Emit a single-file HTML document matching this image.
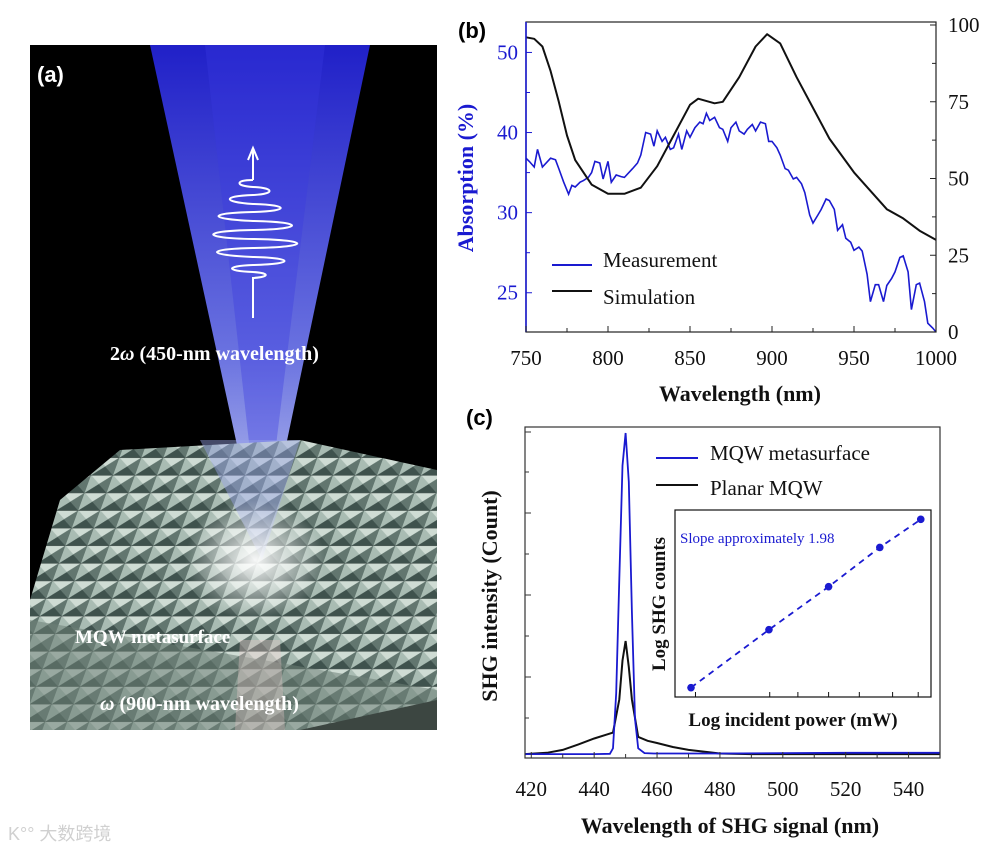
<!DOCTYPE html>
<html><head><meta charset="utf-8">
<style>
html,body{margin:0;padding:0;background:#fff;}
body{width:1008px;height:851px;overflow:hidden;position:relative;font-family:"Liberation Serif",serif;}
svg{position:absolute;left:0;top:0;}
</style></head>
<body>
<svg width="1008" height="851" viewBox="0 0 1008 851" xmlns="http://www.w3.org/2000/svg">
<defs>
  <linearGradient id="beam" x1="0" y1="0" x2="0" y2="1">
    <stop offset="0" stop-color="#2020c8"/>
    <stop offset="0.6" stop-color="#6a72e0"/>
    <stop offset="1" stop-color="#c8d0f0"/>
  </linearGradient>
  <pattern id="pyr" width="22" height="22" patternUnits="userSpaceOnUse" patternTransform="skewX(-20) scale(1,0.8)">
    <rect width="22" height="22" fill="#8fa39b"/>
    <polygon points="0,0 22,0 11,11" fill="#cfdcd4"/>
    <polygon points="0,22 22,22 11,11" fill="#3f524d"/>
    <polygon points="0,0 0,22 11,11" fill="#a9bcb3"/>
    <polygon points="22,0 22,22 11,11" fill="#62766f"/>
    <line x1="0" y1="0" x2="22" y2="0" stroke="#2a3532" stroke-width="1"/>
  </pattern>
  <radialGradient id="glow" cx="0.5" cy="0.5" r="0.5">
    <stop offset="0" stop-color="#ffffff" stop-opacity="0.95"/>
    <stop offset="1" stop-color="#ffffff" stop-opacity="0"/>
  </radialGradient>
</defs>

<!-- Panel (a) -->
<g>
  <rect x="30" y="45" width="407" height="685" fill="#000"/>
  <polygon points="150,45 370,45 262,560" fill="url(#beam)"/>
  <polygon points="205,45 325,45 262,560" fill="#3a3ae0" opacity="0.35"/>
  <polygon points="30,600 60,500 120,450 300,440 437,470 437,700 300,730 30,730" fill="url(#pyr)"/>
  <polygon points="30,620 437,690 437,730 30,730" fill="#6d7f77" opacity="0.55"/>
  <polygon points="200,440 300,440 262,560" fill="#9aa4e8" opacity="0.45"/>
  <ellipse cx="255" cy="560" rx="70" ry="60" fill="url(#glow)"/>
  <polygon points="240,640 280,640 285,730 235,730" fill="#e8c8c8" opacity="0.35"/>
  <g fill="none" stroke="#fff" stroke-width="2">
    <path d="M248,160 L253,148 L258,160 M253,150 L253,180"/>
    <path d="M253,180 C235,180 235,186 253,187 C275,188 275,194 253,195 C222,196 222,202 253,204 C290,205 290,211 253,212 C207,213 207,219 253,221 C305,222 305,229 253,230 C200,231 200,238 253,239 C312,240 312,247 253,248 C205,249 205,255 253,257 C295,258 295,264 253,265 C225,266 225,271 253,272 C270,273 270,277 253,278 L253,318"/>
  </g>
  <text x="37" y="82" font-family="Liberation Sans,sans-serif" font-weight="bold" font-size="22" fill="#fff">(a)</text>
  <text x="110" y="360" font-weight="bold" font-size="20" fill="#fff">2<tspan font-style="italic">ω</tspan> (450-nm wavelength)</text>
  <text x="75" y="643" font-weight="bold" font-size="19" fill="#fff">MQW metasurface</text>
  <text x="100" y="710" font-weight="bold" font-size="20" fill="#fff"><tspan font-style="italic">ω</tspan> (900-nm wavelength)</text>
</g>
<text x="8" y="840" font-family="Liberation Sans,'Noto Sans CJK SC',sans-serif" font-size="18" fill="#d0d0d0">K°° 大数跨境</text>

<g id="panelB"></g>
<g id="panelC"></g>
</svg>

<script>
const NS='http://www.w3.org/2000/svg';
function mk(parent,tag,attrs,text){const e=document.createElementNS(NS,tag);for(const k in attrs)e.setAttribute(k,attrs[k]);if(text!==undefined)e.textContent=text;parent.appendChild(e);return e;}

// ---- Panel (b) data ----
const bSimWl=[750,755,760,765,770,775,780,790,800,810,820,830,840,850,855,865,870,880,890,897,905,915,925,935,950,960,970,980,990,1000];
const bSimVal=[96,95.5,93,85,75,64,56,48,45,45,47,54,64,74,76,74.5,75,83,93,97,94,83,73,63,52,46,40,37,33,30];
const bMeasWl=[750,752,755,757,760,765,768,770,773,776,778,780,783,785,788,790,792,795,797,800,802,805,808,810,815,818,820,823,826,828,830,833,835,838,840,843,845,848,850,853,856,858,860,862,865,868,870,873,875,878,880,883,885,888,890,893,896,898,900,903,905,908,910,913,915,918,920,923,925,928,930,933,935,938,940,943,945,948,950,953,955,958,960,963,965,968,970,973,975,978,980,983,985,988,990,993,995,998,1000];
const bMeasVal=[36.8,36.4,35.7,37.9,35.7,36.8,36.6,35.5,33.8,32.3,33.4,33.2,33.8,34,34.4,35,36.4,36.2,34.2,36.4,33.8,34.7,34.5,34.4,35.5,36.2,37.2,40,39.8,38.3,40.2,38.9,39.4,37.9,38.1,39.8,37.9,40.2,39.4,40.6,41.3,41.1,42.4,41.5,41.9,40.6,40.4,38.9,40.6,41.3,40.2,39.8,40.4,41,40.2,41.3,41.1,38.9,38.9,38.1,37.2,35.5,35.3,34.2,34.4,33.6,32.5,29.7,28.7,29.7,30.4,31.7,31.5,30.4,27.8,28.5,26.8,26.3,25.3,25.7,25.2,22.3,18.9,21,21,18.9,20.9,21.8,22.6,24.4,24.6,22.6,17.9,21,21.2,18.9,16.2,15.6,15.1];
const bXTicks=[750,800,850,900,950,1000];
const bLeftTicks=[50,40,30,20];
const bLeftTickLabels=['50','40','30','25'];
const bRightTicks=[0,25,50,75,100];

// ---- Panel (c) data ----
const cBlueWl=[418,430,440,445,446,447,448,449,450,451,452,453,454,456,459,480,500,520,550];
const cBlueVal=[1.2,1.2,1.2,1.3,3,20,55,90,100,85,45,12,3,1.5,1.4,1.4,1.5,1.6,1.6];
const cBlackWl=[418,425,430,435,440,444,446,448,449,450,451,452,454,457,460,465,470,480,490,500,520,550];
const cBlackVal=[1.2,1.6,2.5,4.2,6,7.2,7.8,18,30,36,28,18,6.5,5.3,4.6,3.4,2.5,1.4,1.2,1.2,1.2,1.2];
const cXTicks=[420,440,460,480,500,520,540];
const insetPower=[0.0625,0.367,0.60,0.80,0.96];
const insetCounts=[0.05,0.36,0.59,0.80,0.95];

// ---- Panel (b) scales ----
const bx=v=>526+(v-750)*(410/250);
const byL=v=>332-(v-15.1)*(310/(53.8-15.1));
const byR=v=>332-v*3.07;
const gB=document.getElementById('panelB');
function linePath(xs,ys,fx,fy){return xs.map((x,i)=>(i?'L':'M')+fx(x).toFixed(1)+','+fy(ys[i]).toFixed(1)).join(' ');}

let t=mk(gB,'text',{x:458,y:38,'font-family':'Liberation Sans,sans-serif','font-weight':'bold','font-size':22,fill:'#000'},'(b)');


let p=mk(gB,'path',{d:linePath(bMeasWl,bMeasVal,bx,byL),fill:'none',stroke:'#1a1ad0','stroke-width':1.6});


p=mk(gB,'path',{d:linePath(bSimWl,bSimVal,bx,byR),fill:'none',stroke:'#111','stroke-width':2,'stroke-linejoin':'round'});


let r=mk(gB,'rect',{x:526,y:22,width:410,height:310,fill:'none',stroke:'#222','stroke-width':1.2});


let la=mk(gB,'line',{x1:526,y1:22,x2:526,y2:332,stroke:'#1a1ad0','stroke-width':1.6});


bXTicks.forEach(v=>{
  mk(gB,'line',{x1:bx(v),y1:332,x2:bx(v),y2:326,stroke:'#222'});
  const tx=mk(gB,'text',{x:bx(v),y:365,'text-anchor':'middle','font-size':21,fill:'#111'},String(v));
  
  
});
[775,825,875,925,975].forEach(v=>mk(gB,'line',{x1:bx(v),y1:332,x2:bx(v),y2:328,stroke:'#222'}));
bLeftTicks.forEach((v,i)=>{
  mk(gB,'line',{x1:526,y1:byL(v),x2:532,y2:byL(v),stroke:'#1a1ad0'});
  const tx=mk(gB,'text',{x:518,y:byL(v)+7,'text-anchor':'end','font-size':21,fill:'#1a1ad0'},bLeftTickLabels[i]);
  
  
});
[45,35,25].forEach(v=>mk(gB,'line',{x1:526,y1:byL(v),x2:530,y2:byL(v),stroke:'#1a1ad0'}));
bRightTicks.forEach(v=>{
  mk(gB,'line',{x1:936,y1:byR(v),x2:930,y2:byR(v),stroke:'#222'});
  const tx=mk(gB,'text',{x:948,y:byR(v)+7,'font-size':21,fill:'#111'},String(v));
  
  
});
[12.5,37.5,62.5,87.5].forEach(v=>mk(gB,'line',{x1:936,y1:byR(v),x2:932,y2:byR(v),stroke:'#222'}));
t=mk(gB,'text',{x:740,y:401,'text-anchor':'middle','font-size':22,'font-weight':'bold',fill:'#111'},'Wavelength (nm)');


t=mk(gB,'text',{x:0,y:0,'text-anchor':'middle','font-size':22,'font-weight':'bold',fill:'#1a1ad0',transform:'translate(473,178) rotate(-90)'},'Absorption (%)');


let lg=mk(gB,'g',{});


mk(lg,'line',{x1:552,y1:265,x2:592,y2:265,stroke:'#1a1ad0','stroke-width':2});
mk(lg,'text',{x:603,y:267,'font-size':21,fill:'#111'},'Measurement');
mk(lg,'line',{x1:552,y1:291,x2:592,y2:291,stroke:'#111','stroke-width':2});
mk(lg,'text',{x:603,y:304,'font-size':21,fill:'#111'},'Simulation');

// ---- Panel (c) ----
const cx=v=>525+(v-418)*(415/132);
const cy=v=>758-v*3.25;
const gC=document.getElementById('panelC');
t=mk(gC,'text',{x:466,y:425,'font-family':'Liberation Sans,sans-serif','font-weight':'bold','font-size':22,fill:'#000'},'(c)');


p=mk(gC,'path',{d:linePath(cBlackWl,cBlackVal,cx,cy),fill:'none',stroke:'#111','stroke-width':2});


p=mk(gC,'path',{d:linePath(cBlueWl,cBlueVal,cx,cy),fill:'none',stroke:'#1a1ad0','stroke-width':1.8});


r=mk(gC,'rect',{x:525,y:427,width:415,height:331,fill:'none',stroke:'#333','stroke-width':1.2});


cXTicks.forEach(v=>{
  mk(gC,'line',{x1:cx(v),y1:758,x2:cx(v),y2:752,stroke:'#333'});
  mk(gC,'line',{x1:cx(v+10),y1:758,x2:cx(v+10),y2:754,stroke:'#333'});
  const tx=mk(gC,'text',{x:cx(v),y:796,'text-anchor':'middle','font-size':21,fill:'#111'},String(v));
  
  
});
[432,472,513,554,595,636,677,718].forEach((y,i)=>mk(gC,'line',{x1:525,y1:y,x2:i%2?529:531,y2:y,stroke:'#333'}));
t=mk(gC,'text',{x:730,y:833,'text-anchor':'middle','font-size':22,'font-weight':'bold',fill:'#111'},'Wavelength of SHG signal (nm)');


t=mk(gC,'text',{x:0,y:0,'text-anchor':'middle','font-size':22,'font-weight':'bold',fill:'#111',transform:'translate(497,596) rotate(-90)'},'SHG intensity (Count)');


lg=mk(gC,'g',{});


mk(lg,'line',{x1:656,y1:458,x2:698,y2:458,stroke:'#1a1ad0','stroke-width':2});
mk(lg,'text',{x:710,y:460,'font-size':21,fill:'#111'},'MQW metasurface');
mk(lg,'line',{x1:656,y1:485,x2:698,y2:485,stroke:'#111','stroke-width':2});
mk(lg,'text',{x:710,y:495,'font-size':21,fill:'#111'},'Planar MQW');

// inset
const ix=v=>675+v*256;
const iy=v=>697-v*187;
let ins=mk(gC,'g',{});


mk(ins,'rect',{x:675,y:510,width:256,height:187,fill:'#fff',stroke:'#111','stroke-width':1.2});
[0.08,0.37,0.48,0.6,0.72,0.85,0.95].forEach(v=>mk(ins,'line',{x1:ix(v),y1:697,x2:ix(v),y2:692,stroke:'#111'}));
p=mk(ins,'path',{d:linePath(insetPower,insetCounts,ix,iy),fill:'none',stroke:'#1a1ad0','stroke-width':1.8,'stroke-dasharray':'6,5'});


insetPower.forEach((v,i)=>{
  const c=mk(ins,'circle',{cx:ix(v),cy:iy(insetCounts[i]),r:3.8,fill:'#1a1ad0'});
  
  
});
mk(ins,'text',{x:680,y:543,'font-size':15,fill:'#1a1ad0'},'Slope approximately 1.98');
mk(ins,'text',{x:793,y:726,'text-anchor':'middle','font-size':19,'font-weight':'bold',fill:'#111'},'Log incident power (mW)');
mk(ins,'text',{x:0,y:0,'text-anchor':'middle','font-size':19,'font-weight':'bold',fill:'#111',transform:'translate(665,604) rotate(-90)'},'Log SHG counts');
</script>
</body></html>
